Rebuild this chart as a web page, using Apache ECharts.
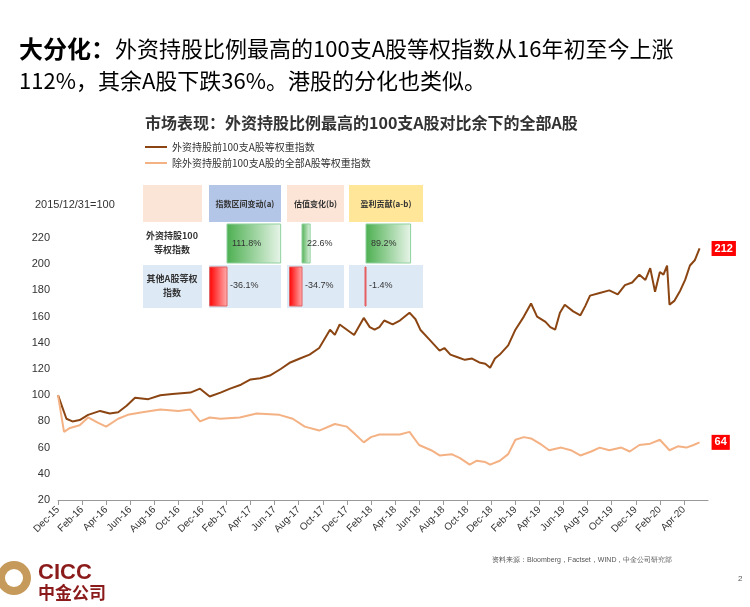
<!DOCTYPE html>
<html><head><meta charset="utf-8">
<script src="https://cdn.jsdelivr.net/npm/echarts@6/dist/echarts.min.js"></script>
<style>html,body{margin:0;padding:0;background:#fff}#c{width:750px;height:607px}</style>
</head><body><div id="c"></div>
<script>
// months since Dec-2015
const monthsA = [0,0.7,1.2,1.8,2.5,3.5,4.3,5,5.7,6.4,7.5,8.5,9.5,11,11.8,12.6,13.5,14.3,15.2,16,16.8,17.6,18.5,19.3,20.1,20.9,21.7,22.6,23,23.4,24,24.6,25.4,25.9,26.3,26.7,27.1,27.8,28.4,29.2,29.7,30.1,30.9,31.7,32.1,32.6,33.2,33.8,34.4,35,35.5,35.9,36.3,36.7,37.4,38,38.7,39.3,39.8,40.5,40.9,41.3,41.7,42.1,42.8,43.4,43.8,44.2,45,45.8,46.5,47.1,47.7,48.3,48.8,49.2,49.6,50,50.3,50.6,50.8,51.2,51.7,52.1,52.5,52.9,53.3];
const valsA   = [100,82,80,81,85,88,86,87,92,98,97,100,101,102,105,99,102,105,108,112,113,115,120,125,128,131,136,150,146,154,150,146,159,152,150,152,157,154,157,163,158,150,142,134,136,131,129,127,128,125,124,121,128,131,138,150,160,170,160,156,152,150,163,169,164,161,168,176,178,180,177,184,186,192,188,197,179,194,192,199,169,172,180,188,199,203,212];
const monthsB = [0,0.5,1,1.8,2.5,3.3,4,5,5.8,7,8.5,10,11,11.8,12.6,13.5,15.1,16.5,18.4,19.5,20.5,21.7,23,24,24.6,25.4,26,26.7,28.4,29.2,30,31,31.7,32.7,33.4,34.2,34.8,35.5,35.9,36.7,37.4,38,38.7,39.3,40.2,40.8,41.8,42.6,43.4,44.3,45,45.8,46.8,47.5,48.3,49.2,50,50.5,50.8,51.5,52.2,52.8,53.3];
const valsB   = [100,72,75,77,83,79,76,82,85,87,89,88,89,80,83,82,83,86,85,82,76,73,78,76,71,64,68,70,70,72,62,58,54,55,52,47,50,49,47,50,55,66,68,67,62,58,60,58,54,57,60,58,60,57,62,63,66,61,58,61,60,62,64];
const monthNames = ['Dec','Jan','Feb','Mar','Apr','May','Jun','Jul','Aug','Sep','Oct','Nov'];
const yTicks = [20,40,60,80,100,120,140,160,180,200,220];
const tblCols = ['指数区间变动(a)','估值变化(b)','盈利贡献(a-b)'];
const tblRows = ['外资持股100\n等权指数','其他A股等权\n指数'];
const tblTop = [111.8,22.6,89.2];
const tblBot = [-36.1,-34.7,-1.4];

const ch = echarts.init(document.getElementById('c'));
const g = [];
const colX=[[209,281],[287,344],[349,423]], zeroX=[227,302,366], scl=[0.48,0.36,0.5];
g.push({type:'rect',shape:{x:143,y:185,width:59,height:37},style:{fill:'#fbe5d6'}});
g.push({type:'rect',shape:{x:143,y:265,width:59,height:43},style:{fill:'#dde9f5'}});
const hdr=['#b4c6e7','#fce4d6','#ffe699'];
tblRows.forEach((r,i)=>g.push({type:'text',x:172,y:i?286:243,style:{text:r,font:'bold 9px "Noto Sans CJK SC"',fill:'#333',align:'center',verticalAlign:'middle',lineHeight:14}}));
colX.forEach((c,i)=>{
  const w=c[1]-c[0];
  g.push({type:'rect',shape:{x:c[0],y:185,width:w,height:37},style:{fill:hdr[i]}});
  g.push({type:'text',x:(c[0]+c[1])/2,y:204,style:{text:tblCols[i],font:'bold 8px "Noto Sans CJK SC"',fill:'#333',align:'center',verticalAlign:'middle'}});
  g.push({type:'rect',shape:{x:c[0],y:265,width:w,height:43},style:{fill:'#dde9f5'}});
  g.push({type:'rect',shape:{x:zeroX[i],y:224,width:tblTop[i]*scl[i],height:39},style:{fill:new echarts.graphic.LinearGradient(0,0,1,0,[{offset:0,color:'#4caf50'},{offset:1,color:'#e8f5e9'}]),stroke:'#8fd19e'}});
  const rw=Math.max(tblBot[i]*scl[i]*-1,1);
  g.push({type:'rect',shape:{x:zeroX[i]-rw,y:267,width:rw,height:39},style:{fill:new echarts.graphic.LinearGradient(0,0,1,0,[{offset:0,color:'#ff0000'},{offset:1,color:'#ffb0b0'}]),stroke:'#e06060'}});
  g.push({type:'text',x:zeroX[i]+5,y:244,style:{text:tblTop[i].toFixed(1)+'%',font:'9px Arial',fill:'#333',verticalAlign:'middle'}});
  g.push({type:'text',x:zeroX[i]+3,y:286,style:{text:tblBot[i].toFixed(1)+'%',font:'9px Arial',fill:'#333',verticalAlign:'middle'}});
});
g.push({type:'circle',shape:{cx:14,cy:578,r:17},style:{fill:'#c59a5a'}});
g.push({type:'circle',shape:{cx:14,cy:578,r:9},style:{fill:'#fff'}});
g.push({type:'text',x:38,y:562,style:{text:'CICC',font:'bold 22px Arial',fill:'#8b1a1a'}});
g.push({type:'text',x:38,y:584,style:{text:'中金公司',font:'bold 17px "Noto Sans CJK SC"',fill:'#8b1a1a'}});

ch.setOption({
  animation:false,
  title:[
    {text:'大分化：{n|外资持股比例最高的100支A股等权指数从16年初至今上涨}\n{n|112%，其余A股下跌36%。港股的分化也类似。}',left:14,top:28,textStyle:{fontSize:24,fontWeight:'bold',color:'#000',fontFamily:'"Noto Sans CJK SC"',lineHeight:32,rich:{n:{fontSize:22,fontWeight:'normal',color:'#000',fontFamily:'"Noto Sans CJK SC"'}}}},
    {text:'市场表现：外资持股比例最高的100支A股对比余下的全部A股',left:140,top:110,textStyle:{fontSize:16,fontWeight:'bold',color:'#333',fontFamily:'"Noto Sans CJK SC"'}},
    {text:'2015/12/31=100',left:30,top:194,textStyle:{fontSize:11,fontWeight:'normal',color:'#333',fontFamily:'Arial'}},
    {text:'资料来源：Bloomberg，Factset，WIND，中金公司研究部',left:487,top:552,textStyle:{fontSize:7,fontWeight:'normal',color:'#555'}},
    {text:'2',left:733,top:570,textStyle:{fontSize:8,fontWeight:'normal',color:'#555'}}
  ],
  legend:{orient:'vertical',left:140,top:137,itemWidth:22,itemHeight:2,itemGap:6,textStyle:{fontSize:10,color:'#333',fontFamily:'"Noto Sans CJK SC"'},data:[{name:'外资持股前100支A股等权重指数',icon:'rect'},{name:'除外资持股前100支A股的全部A股等权重指数',icon:'rect'}]},
  grid:{left:58,right:42,top:238,bottom:107},
  xAxis:{type:'value',min:0,max:54,interval:2,splitLine:{show:false},axisLine:{lineStyle:{color:'#999'}},axisTick:{lineStyle:{color:'#999'}},
    axisLabel:{rotate:45,fontSize:10,color:'#333',fontFamily:'Arial',showMaxLabel:false,formatter:v=>{const m=v%12;const yr=15+Math.floor((v+11)/12);return monthNames[m]+'-'+yr;}}},
  yAxis:{type:'value',min:20,max:220,interval:20,splitLine:{show:false},axisLine:{show:false},axisTick:{show:false},axisLabel:{fontSize:11,color:'#333',fontFamily:'Arial'}},
  graphic:g,
  series:[
    {name:'外资持股前100支A股等权重指数',type:'line',showSymbol:false,data:monthsA.map((m,i)=>[m,valsA[i]]),lineStyle:{color:'#8b4513',width:2},itemStyle:{color:'#8b4513'},
     endLabel:{show:true,formatter:p=>p.value[1],backgroundColor:'#ff0000',color:'#fff',fontWeight:'bold',fontSize:11,padding:[2,3],offset:[4,0]}},
    {name:'除外资持股前100支A股的全部A股等权重指数',type:'line',showSymbol:false,data:monthsB.map((m,i)=>[m,valsB[i]]),lineStyle:{color:'#f4b183',width:2},itemStyle:{color:'#f4b183'},
     endLabel:{show:true,formatter:p=>p.value[1],backgroundColor:'#ff0000',color:'#fff',fontWeight:'bold',fontSize:11,padding:[2,3],offset:[4,0]}}
  ]
});
</script></body></html>
